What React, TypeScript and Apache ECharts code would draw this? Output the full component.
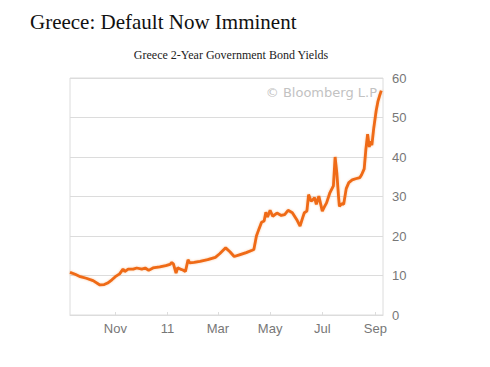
import React, { useEffect, useRef } from "react";
import * as echarts from "echarts";

const dates: string[] = [
  "2010-09-09", "2010-09-15", "2010-09-21", "2010-09-28", "2010-10-06", "2010-10-14", "2010-10-19", "2010-10-23", "2010-10-28",
  "2010-11-01", "2010-11-06", "2010-11-10", "2010-11-12", "2010-11-16", "2010-11-22", "2010-11-26",
  "2010-12-02", "2010-12-06", "2010-12-10", "2010-12-15", "2010-12-23", "2010-12-30",
  "2011-01-04", "2011-01-06", "2011-01-08", "2011-01-11", "2011-01-13", "2011-01-16", "2011-01-19",
  "2011-01-22", "2011-01-25", "2011-01-27", "2011-02-01", "2011-02-08", "2011-02-17", "2011-02-26",
  "2011-03-03", "2011-03-10", "2011-03-15", "2011-03-20", "2011-03-27", "2011-04-03", "2011-04-10",
  "2011-04-12", "2011-04-15", "2011-04-18", "2011-04-21", "2011-04-24", "2011-04-26", "2011-04-28",
  "2011-05-01", "2011-05-04", "2011-05-09", "2011-05-14", "2011-05-18", "2011-05-22", "2011-05-27",
  "2011-06-01", "2011-06-05", "2011-06-08", "2011-06-10", "2011-06-13", "2011-06-15", "2011-06-18",
  "2011-06-20", "2011-06-22", "2011-06-24", "2011-06-27", "2011-07-01", "2011-07-03", "2011-07-06",
  "2011-07-10", "2011-07-14", "2011-07-16", "2011-07-18", "2011-07-20",
  "2011-07-21", "2011-07-24", "2011-07-26", "2011-07-29", "2011-08-01", "2011-08-05", "2011-08-09",
  "2011-08-14", "2011-08-16", "2011-08-19", "2011-08-21", "2011-08-23", "2011-08-25", "2011-08-26",
  "2011-08-28", "2011-08-30", "2011-09-02", "2011-09-04", "2011-09-06", "2011-09-08",
];

const yields: number[] = [
  10.8, 10.3, 9.7, 9.3, 8.7, 7.6, 7.7, 8.1, 8.9,
  9.7, 10.4, 11.6, 11.0, 11.6, 11.6, 11.9,
  11.6, 11.9, 11.3, 11.9, 12.2, 12.5,
  12.8, 13.3, 12.9, 10.6, 12.0, 11.6, 11.4,
  11.0, 14.0, 13.2, 13.3, 13.6, 14.0, 14.6,
  15.5, 17.0, 16.0, 14.8, 15.3, 15.8, 16.4,
  16.6, 20.0, 21.8, 23.5, 23.8, 26.0, 24.8,
  26.5, 25.0, 25.8, 25.2, 25.4, 26.5, 25.9,
  24.2, 22.5, 24.6, 25.9, 26.3, 30.5, 28.8,
  29.2, 29.7, 28.0, 30.1, 26.3, 27.2, 28.4,
  31.0, 32.7, 40.0, 36.0, 30.0,
  27.5, 28.2, 28.0, 32.0, 33.5, 34.2, 34.5,
  34.8, 35.5, 37.0, 42.0, 45.8, 42.5, 44.0,
  43.0, 47.0, 51.7, 54.0, 55.5, 56.8,
];

const tickDates: string[] = ["2010-11-01", "2011-01-01", "2011-03-01", "2011-05-01", "2011-07-01", "2011-09-01"];
const tickLabels: string[] = ["Nov", "11", "Mar", "May", "Jul", "Sep"];
const axisStart = "2010-09-09";
const axisEnd = "2011-09-10";

const title = "Greece: Default Now Imminent";
const subtitle = "Greece 2-Year Government Bond Yields";
const watermark = "© Bloomberg L.P";

const toTime = (s: string) => {
  const [y, m, d] = s.split("-").map(Number);
  return Date.UTC(y, m - 1, d);
};

export default function App() {
  const ref = useRef<HTMLDivElement>(null);
  useEffect(() => {
    if (!ref.current) return;
    const chart = echarts.init(ref.current, null, { renderer: "svg" });
    const tickValues = tickDates.map(toTime);
    const labelFor = (v: number) => {
      const i = tickValues.indexOf(v);
      return i >= 0 ? tickLabels[i] : "";
    };
    chart.setOption({
      animation: false,
      backgroundColor: "#ffffff",
      grid: {
        left: 70,
        right: 107,
        top: 78,
        bottom: 52,
        show: true,
        borderColor: "#dcdcdc",
        borderWidth: 1,
      },
      graphic: [
        {
          type: "text",
          left: 30,
          top: 11,
          style: {
            text: title,
            font: "21px 'Liberation Serif', 'DejaVu Serif', serif",
            fill: "#111111",
          },
        },
        {
          type: "text",
          x: 231,
          y: 55,
          style: {
            text: subtitle,
            font: "12px 'Liberation Serif', 'DejaVu Serif', serif",
            fill: "#222222",
            align: "center",
            verticalAlign: "middle",
          },
        },
        {
          type: "text",
          x: 377,
          y: 92,
          style: {
            text: watermark,
            font: "13px 'DejaVu Sans', 'Liberation Sans', sans-serif",
            fill: "#c2c2c2",
            align: "right",
            verticalAlign: "middle",
          },
        },
      ],
      xAxis: {
        type: "value",
        min: toTime(axisStart),
        max: toTime(axisEnd),
        axisLine: { show: true, lineStyle: { color: "#dcdcdc" } },
        axisTick: {
          show: true,
          customValues: tickValues,
          length: 3,
          inside: true,
          lineStyle: { color: "#dddddd" },
        },
        axisLabel: {
          customValues: tickValues,
          formatter: (v: number) => labelFor(v),
          color: "#777777",
          fontSize: 13,
          fontFamily: "'Liberation Sans', Arial, sans-serif",
          margin: 7,
          showMinLabel: true,
          showMaxLabel: true,
          hideOverlap: false,
        },
        splitLine: { show: false },
      },
      yAxis: {
        type: "value",
        position: "right",
        min: 0,
        max: 60,
        interval: 10,
        axisLine: { show: false },
        axisTick: { show: false },
        axisLabel: {
          color: "#777777",
          fontSize: 13,
          fontFamily: "'Liberation Sans', Arial, sans-serif",
          margin: 9,
        },
        splitLine: { show: true, lineStyle: { color: "#dcdcdc", width: 1 } },
      },
      series: [
        {
          type: "line",
          data: dates.map((d, i) => [toTime(d), yields[i]]),
          showSymbol: false,
          symbol: "none",
          lineStyle: {
            color: "#ef6a14",
            width: 2.8,
            shadowColor: "rgba(240,120,40,0.4)",
            shadowBlur: 2,
          },
        },
      ],
    });
    return () => chart.dispose();
  }, []);
  return (
    <div
      ref={ref}
      style={{ position: "fixed", left: 0, top: 0, width: 490, height: 367 }}
    />
  );
}
